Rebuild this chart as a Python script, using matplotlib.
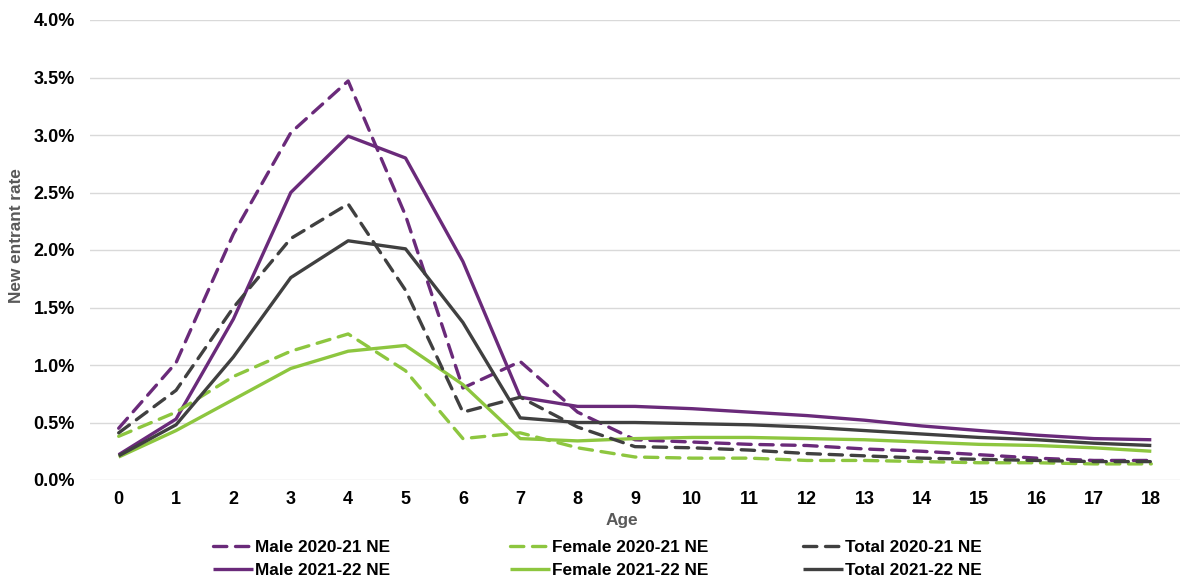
import matplotlib
matplotlib.use("Agg")
import matplotlib.pyplot as plt
from matplotlib.ticker import FuncFormatter

plt.rcParams['font.family'] = ['Liberation Sans', 'DejaVu Sans']

ages = list(range(19))

# new entrant rates in percent
male_2021 = [0.45, 1.02, 2.14, 3.02, 3.47, 2.30, 0.80, 1.03, 0.59, 0.35, 0.33, 0.31, 0.30,
             0.27, 0.25, 0.22, 0.19, 0.17, 0.17]
female_2021 = [0.38, 0.59, 0.90, 1.12, 1.27, 0.95, 0.36, 0.41, 0.28, 0.20, 0.19, 0.19, 0.17,
               0.17, 0.16, 0.15, 0.15, 0.14, 0.14]
total_2021 = [0.41, 0.78, 1.50, 2.10, 2.40, 1.65, 0.59, 0.72, 0.46, 0.29, 0.28, 0.26, 0.23,
              0.21, 0.19, 0.18, 0.17, 0.16, 0.16]
male_2122 = [0.22, 0.53, 1.40, 2.50, 2.99, 2.80, 1.90, 0.72, 0.64, 0.64, 0.62, 0.59, 0.56,
             0.52, 0.47, 0.43, 0.39, 0.36, 0.35]
female_2122 = [0.20, 0.43, 0.70, 0.97, 1.12, 1.17, 0.83, 0.36, 0.34, 0.36, 0.37, 0.37, 0.36,
               0.35, 0.33, 0.31, 0.30, 0.28, 0.25]
total_2122 = [0.21, 0.48, 1.07, 1.76, 2.08, 2.01, 1.37, 0.54, 0.50, 0.50, 0.49, 0.48, 0.46,
              0.43, 0.40, 0.37, 0.35, 0.32, 0.30]

PURPLE = "#6A2A7A"
GREEN = "#8DC63F"
GREY = "#404040"
W, H = 1182, 581

fig = plt.figure(figsize=(W / 100, H / 100), dpi=100)
ax = fig.add_axes([90 / W, 101 / H, 1090 / W, 460 / H])

lw = 2.4
dash = (4, 2.6)
groups = [
    ("Male", male_2021, male_2122, PURPLE, 213),
    ("Female", female_2021, female_2122, GREEN, 510),
    ("Total", total_2021, total_2122, GREY, 803),
]
for name, old, new, color, lx in groups:
    l1, = ax.plot(ages, old, color=color, lw=lw, dash_capstyle='round')
    l1.set_dashes(dash)
    l2, = ax.plot(ages, new, color=color, lw=lw, solid_capstyle='butt')
    # one legend per group so the columns sit at fixed spacing, as in the original
    fig.legend([l1, l2], [f"{name} 2020-21 NE", f"{name} 2021-22 NE"],
               loc='lower left', bbox_to_anchor=(lx / W, 3 / H), frameon=False,
               borderpad=0, borderaxespad=0, prop={'weight': 'bold', 'size': 12.4},
               handlelength=2.3, handletextpad=0.15, labelspacing=0.45)

ax.set_xlim(-0.5, 18.5)
ax.set_ylim(0, 4.0)
ax.set_yticks([i * 0.5 for i in range(9)])
ax.yaxis.set_major_formatter(FuncFormatter(lambda v, p: f"{v:.1f}%"))
ax.set_xticks(ages)
ax.grid(axis='y', color='#D9D9D9', lw=1)
ax.set_axisbelow(True)
for s in ax.spines.values():
    s.set_visible(False)
ax.tick_params(length=0, labelsize=13)
ax.tick_params(axis='y', pad=10.8)
ax.tick_params(axis='x', pad=8)
for t in ax.get_xticklabels() + ax.get_yticklabels():
    t.set_fontweight('bold')

fig.text(17 / W, 1 - 236 / H, "New entrant rate", rotation=90, ha='center', va='center',
         fontsize=12.4, fontweight='bold', color='#595959')
fig.text(622 / W, 1 - 520 / H, "Age", ha='center', va='center',
         fontsize=12.4, fontweight='bold', color='#595959')

fig.savefig("out.png", dpi=100)
